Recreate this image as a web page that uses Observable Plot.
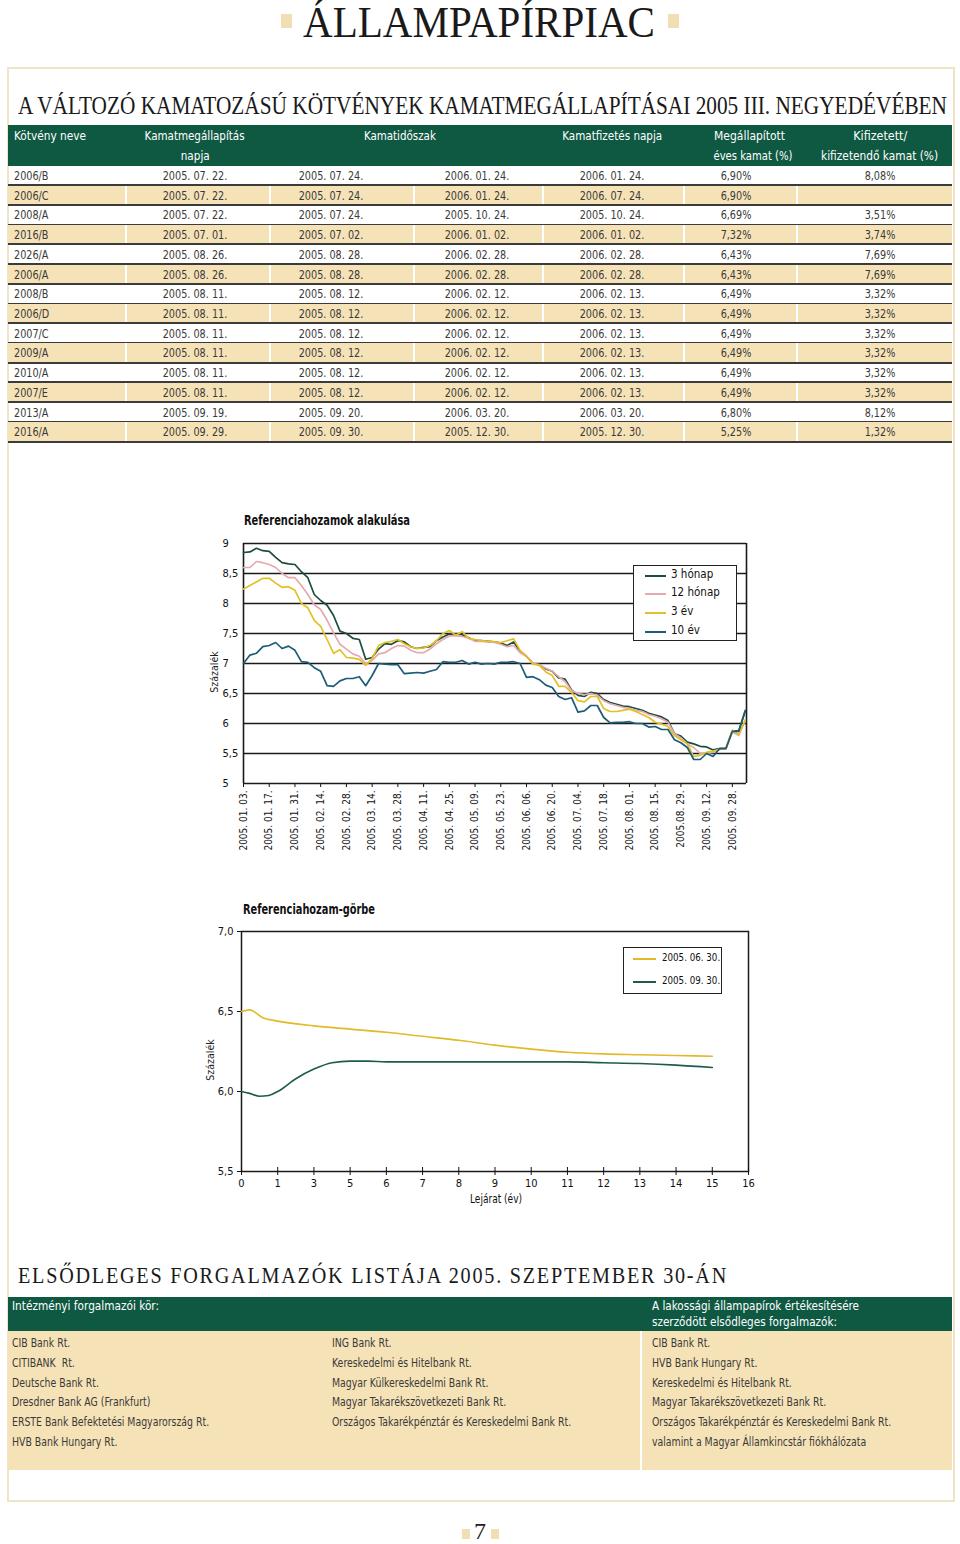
<!DOCTYPE html>
<html><head><meta charset="utf-8">
<script src="https://cdn.jsdelivr.net/npm/d3@7"></script>
<script src="https://cdn.jsdelivr.net/npm/@observablehq/plot@0.6"></script>
<style>
body{margin:0;width:960px;height:1544px;position:relative;background:#fff;overflow:hidden;
 font-family:"DejaVu Sans Condensed","Liberation Sans Narrow",sans-serif;color:#2e2e2e}
.abs{position:absolute;white-space:nowrap}
.serif{font-family:"Liberation Serif","DejaVu Serif",serif;color:#1a1a1a}
.cell{position:absolute;text-align:center;width:140px;font-size:12.8px;line-height:20px;white-space:nowrap;transform:scaleX(0.84);color:#3a3a3a}
.cellL{transform-origin:0 50%}
.hd{position:absolute;color:#fff;font-size:13px;white-space:nowrap}
.li{position:absolute;font-size:13px;white-space:pre;color:#3a3a3a;transform:scaleX(0.8);transform-origin:0 50%}
</style></head>
<body>
<script>
// ---------------- DATA ----------------
const names = ["2006/B","2006/C","2008/A","2016/B","2026/A","2006/A","2008/B","2006/D","2007/C","2009/A","2010/A","2007/E","2013/A","2016/A"];
const fixDates = ["2005. 07. 22.","2005. 07. 22.","2005. 07. 22.","2005. 07. 01.","2005. 08. 26.","2005. 08. 26.","2005. 08. 11.","2005. 08. 11.","2005. 08. 11.","2005. 08. 11.","2005. 08. 11.","2005. 08. 11.","2005. 09. 19.","2005. 09. 29."];
const periodStart = ["2005. 07. 24.","2005. 07. 24.","2005. 07. 24.","2005. 07. 02.","2005. 08. 28.","2005. 08. 28.","2005. 08. 12.","2005. 08. 12.","2005. 08. 12.","2005. 08. 12.","2005. 08. 12.","2005. 08. 12.","2005. 09. 20.","2005. 09. 30."];
const periodEnd = ["2006. 01. 24.","2006. 01. 24.","2005. 10. 24.","2006. 01. 02.","2006. 02. 28.","2006. 02. 28.","2006. 02. 12.","2006. 02. 12.","2006. 02. 12.","2006. 02. 12.","2006. 02. 12.","2006. 02. 12.","2006. 03. 20.","2005. 12. 30."];
const payDates = ["2006. 01. 24.","2006. 07. 24.","2005. 10. 24.","2006. 01. 02.","2006. 02. 28.","2006. 02. 28.","2006. 02. 13.","2006. 02. 13.","2006. 02. 13.","2006. 02. 13.","2006. 02. 13.","2006. 02. 13.","2006. 03. 20.","2005. 12. 30."];
const rates = ["6,90%","6,90%","6,69%","7,32%","6,43%","6,43%","6,49%","6,49%","6,49%","6,49%","6,49%","6,49%","6,80%","5,25%"];
const paidRates = ["8,08%","","3,51%","3,74%","7,69%","7,69%","3,32%","3,32%","3,32%","3,32%","3,32%","3,32%","8,12%","1,32%"];

// Chart 1: reference yields (business-day index, sampled every 2.5 days)
const hozamIdx = [0,2.5,5,7.5,10,12.5,15,17.5,20,22.5,25,27.5,30,32.5,35,37.5,40,42.5,45,47.5,50,52.5,55,57.5,60,62.5,65,67.5,70,72.5,75,77.5,80,82.5,85,87.5,90,92.5,95,97.5,100,102.5,105,107.5,110,112.5,115,117.5,120,122.5,125,127.5,130,132.5,135,137.5,140,142.5,145,147.5,150,152.5,155,157.5,160,162.5,165,167.5,170,172.5,175,177.5,180,182.5,185,187.5,190,192.5,195];
const honap3 = [8.85,8.86,8.92,8.88,8.87,8.77,8.68,8.66,8.65,8.53, 8.43,8.15,8.05,7.97,7.80,7.54,7.50,7.42,7.40,7.07, 7.10,7.24,7.33,7.32,7.38,7.36,7.28,7.25,7.27,7.28, 7.38,7.44,7.49,7.49,7.48,7.43,7.38,7.38,7.37,7.36, 7.34,7.30,7.36,7.20,7.12,7.00,6.98,6.91,6.87,6.76, 6.74,6.56,6.47,6.45,6.52,6.50,6.40,6.35,6.32,6.29, 6.28,6.25,6.22,6.17,6.14,6.11,6.05,5.83,5.79,5.69, 5.66,5.62,5.61,5.56,5.58,5.59,5.87,5.88,6.20];
const honap12 = [8.60,8.60,8.70,8.68,8.65,8.60,8.50,8.43,8.43,8.30, 8.15,7.98,7.90,7.72,7.51,7.32,7.24,7.16,7.12,7.00, 7.05,7.16,7.18,7.25,7.30,7.29,7.22,7.18,7.18,7.24, 7.33,7.40,7.46,7.46,7.45,7.42,7.37,7.37,7.36,7.35, 7.32,7.28,7.30,7.18,7.12,7.00,6.98,6.92,6.87,6.78, 6.70,6.55,6.50,6.48,6.50,6.47,6.38,6.33,6.30,6.27, 6.25,6.22,6.20,6.15,6.12,6.08,6.02,5.83,5.76,5.66, 5.60,5.50,5.50,5.52,5.57,5.59,5.86,5.80,6.05];
const ev3 = [8.24,8.30,8.36,8.42,8.42,8.34,8.27,8.28,8.22,8.00, 7.93,7.72,7.62,7.40,7.17,7.23,7.10,7.09,7.07,6.97, 7.08,7.30,7.35,7.37,7.40,7.33,7.28,7.25,7.26,7.30, 7.38,7.50,7.55,7.47,7.53,7.42,7.40,7.38,7.37,7.36, 7.35,7.38,7.41,7.22,7.12,6.99,6.97,6.86,6.80,6.62, 6.62,6.52,6.38,6.36,6.45,6.45,6.25,6.20,6.20,6.22, 6.24,6.20,6.15,6.10,6.02,5.99,5.95,5.80,5.73,5.66, 5.45,5.47,5.52,5.54,5.57,5.58,5.89,5.82,6.06];
const ev10 = [7.00,7.14,7.17,7.28,7.30,7.35,7.25,7.29,7.22,7.03, 7.02,6.93,6.87,6.63,6.62,6.71,6.75,6.75,6.78,6.63, 6.80,7.00,6.99,6.98,6.98,6.83,6.84,6.85,6.84,6.87, 6.90,7.03,7.02,7.02,7.05,6.99,7.02,6.99,7.00,6.99, 7.02,7.02,7.03,7.00,6.77,6.78,6.73,6.64,6.60,6.45, 6.40,6.43,6.19,6.21,6.30,6.30,6.10,6.01,6.02,6.02, 6.03,6.00,6.00,5.94,5.95,5.90,5.90,5.73,5.68,5.60, 5.40,5.40,5.50,5.45,5.58,5.58,5.87,5.87,6.22];
const seriesNames = ["3 hónap","12 hónap","3 év","10 év"];
const seriesColors = ["#1d4d3c","#e6a9b0","#e2c126","#1c5c78"];
const xTickIdx = [0,10,20,30,40,50,60,70,80,90,100,110,120,130,140,150,160,170,180,190];
const xTickLabels = ["2005. 01. 03.","2005. 01. 17.","2005. 01. 31.","2005. 02. 14.","2005. 02. 28.","2005. 03. 14.","2005. 03. 28.","2005. 04. 11.","2005. 04. 25.","2005. 05. 09.","2005. 05. 23.","2005. 06. 06.","2005. 06. 20.","2005. 07. 04.","2005. 07. 18.","2005. 08. 01.","2005. 08. 15.","2005.08. 29.","2005. 09. 12.","2005. 09. 28."];
const y1Ticks = [5,5.5,6,6.5,7,7.5,8,8.5,9];

// Chart 2: yield curve (category position of maturity label)
const curveLabels = ["0","1","3","5","6","7","8","9","10","11","12","13","14","15","16"];
const curveTickPos = [0,1,2,3,4,5,6,7,8,9,10,11,12,13,14];
const junePos = [0,0.22,0.6,1,2,3,4,5,6,7,8,9,10,11,12,13];
const juneVals = [6.50,6.51,6.46,6.44,6.41,6.39,6.37,6.345,6.32,6.29,6.265,6.245,6.235,6.23,6.225,6.22];
const septPos = [0,0.2,0.5,0.75,1,1.5,2,2.5,3,3.5,4,5,6,7,8,9,10,11,12,13];
const septVals = [6.00,5.99,5.97,5.975,6.00,6.08,6.14,6.18,6.19,6.19,6.185,6.185,6.185,6.185,6.185,6.185,6.18,6.175,6.165,6.15];
const curveNames = ["2005. 06. 30.","2005. 09. 30."];
const curveColors = ["#e2b928","#1d5c4a"];
const y2Ticks = [5.5,6.0,6.5,7.0];

// Primary dealers
const dealersA = ["CIB Bank Rt.","CITIBANK  Rt.","Deutsche Bank Rt.","Dresdner Bank AG (Frankfurt)","ERSTE Bank Befektetési Magyarország Rt.","HVB Bank Hungary Rt."];
const dealersB = ["ING Bank Rt.","Kereskedelmi és Hitelbank Rt.","Magyar Külkereskedelmi Bank Rt.","Magyar Takarékszövetkezeti Bank Rt.","Országos Takarékpénztár és Kereskedelmi Bank Rt."];
const dealersRetail = ["CIB Bank Rt.","HVB Bank Hungary Rt.","Kereskedelmi és Hitelbank Rt.","Magyar Takarékszövetkezeti Bank Rt.","Országos Takarékpénztár és Kereskedelmi Bank Rt.","valamint a Magyar Államkincstár fiókhálózata"];

// ---------------- HELPERS ----------------
const GREEN = "#0f5943", TAN = "#f6e2b7";
function el(tag, cls, style, text){const e=document.createElement(tag); if(cls) e.className=cls; Object.assign(e.style, style||{}); if(text!=null) e.textContent=text; document.body.appendChild(e); return e;}
function box(l,t,w,h,style){return el("div","",Object.assign({position:"absolute",left:l+"px",top:t+"px",width:w+"px",height:h+"px"},style||{}));}
function fit(e,w,origin){const r=e.getBoundingClientRect().width; e.style.transformOrigin=origin||"0 0"; e.style.transform=`scaleX(${w/r})`;}

// ---------------- PAGE ----------------
const t1 = el("div","abs serif",{left:"303px",top:"-3px",fontSize:"44px"},"ÁLLAMPAPÍRPIAC"); fit(t1,352);
box(281,14,11,14,{background:"#f1dfb4"}); box(668,14,11,14,{background:"#f1dfb4"});
box(7,67,944,1431,{border:"2px solid #f0e4c6"});
const t2 = el("div","abs serif",{left:"18px",top:"91px",fontSize:"26px"},"A VÁLTOZÓ KAMATOZÁSÚ KÖTVÉNYEK KAMATMEGÁLLAPÍTÁSAI 2005 III. NEGYEDÉVÉBEN"); fit(t2,929);

// table header
box(8,125,944,41,{background:GREEN});
const hdr=(txt,x,top,w,align)=>{const e=el("div","hd",{top:top+"px"},txt); const r=e.getBoundingClientRect().width; const s=w/r;
  if(align==="left"){e.style.left=x+"px"; e.style.transformOrigin="0 0";} else {e.style.left=(x-r/2)+"px"; e.style.transformOrigin="50% 0";}
  e.style.transform=`scaleX(${s})`; return e;};
hdr("Kötvény neve",14,128,72,"left");
hdr("Kamatmegállapítás",195,128,100); hdr("napja",195,148,29);
hdr("Kamatidőszak",400,128,72);
hdr("Kamatfizetés napja",612,128,100);
hdr("Megállapított",750,128,71); hdr("éves kamat (%)",753,148,79);
hdr("Kifizetett/",880,128,54); hdr("kifizetendő kamat (%)",880,148,117);

// table rows
const rowH = 19.72, row0 = 166;
const cols = [fixDates, periodStart, periodEnd, payDates, rates, paidRates];
const centers = [195,331,477,612,736,880];
const seps = [125,269,413,542,683,796];
names.forEach((n,i)=>{
  const top = row0 + i*rowH;
  if(i%2===1){
    box(8,top,944,rowH,{background:TAN});
    seps.forEach(x=>box(x,top,2,rowH,{background:"#fff"}));
  }
  box(8,top+rowH-1.5,944,2,{background:"#3b3b3b"});
  el("div","cell cellL",{left:"14px",top:top+"px",textAlign:"left"},n);
  cols.forEach((c,j)=>el("div","cell",{left:(centers[j]-70)+"px",top:top+"px"},c[i]));
});

// ---------------- CHART 1 ----------------
const hozamRows = [];
[honap3,honap12,ev3,ev10].forEach((vals,k)=>vals.forEach((v,i)=>hozamRows.push({x:hozamIdx[i], y:v, s:seriesNames[k]})));
const labelOf = new Map(xTickIdx.map((d,i)=>[d,xTickLabels[i]]));
const cond = '"DejaVu Sans Condensed",sans-serif';
const c1 = Plot.plot({
  width:565, height:318, marginLeft:53, marginRight:9, marginTop:13, marginBottom:65,
  style:{fontFamily:cond, fontSize:"10px", color:"#111", background:"transparent", overflow:"visible"},
  x:{domain:[0,195.5]},
  y:{domain:[5,9]},
  color:{domain:seriesNames, range:seriesColors},
  marks:[
    Plot.ruleY(y1Ticks,{stroke:"#1a1a1a", strokeWidth:1.6}),
    Plot.ruleX([0,195.5],{stroke:"#1a1a1a", strokeWidth:1.6}),
    Plot.axisX({ticks:xTickIdx, tickFormat:d=>labelOf.get(d), tickRotate:-90, tickSize:4, tickPadding:3, label:null, stroke:"#111", fontSize:10}),
    Plot.axisY({ticks:y1Ticks, tickFormat:d=>String(d).replace(".",","), tickSize:0, tickPadding:3, textAnchor:"start", dx:-18, label:null, fontSize:11}),
    Plot.line(hozamRows,{x:"x", y:"y", stroke:"s", z:"s", strokeWidth:1.7, curve:"linear"})
  ]
});
const w1 = box(190,530,565,318,{}); w1.appendChild(c1);
const ct1 = el("div","abs",{left:"244px",top:"512px",fontSize:"13.5px",fontWeight:"bold",color:"#111"},"Referenciahozamok alakulása"); fit(ct1,166);
el("div","abs",{left:"214px",top:"672px",fontSize:"10.5px",color:"#222",transform:"translate(-50%,-50%) rotate(-90deg)"},"Százalék");
// legend 1
const lg1 = box(633,565,102,74,{border:"1.3px solid #222",background:"#fff"});
seriesNames.forEach((n,i)=>{
  const y=[9,27,46,65][i];
  const l=document.createElement("div"); Object.assign(l.style,{position:"absolute",left:"11px",top:(y)+"px",width:"21px",height:"2px",background:seriesColors[i]}); lg1.appendChild(l);
  const t=document.createElement("div"); Object.assign(t.style,{position:"absolute",left:"37px",top:(y-8)+"px",fontSize:"11.5px",color:"#111",whiteSpace:"nowrap"}); t.textContent=n; lg1.appendChild(t);
});

// ---------------- CHART 2 ----------------
const curveRows = [];
junePos.forEach((p,i)=>curveRows.push({x:p,y:juneVals[i],s:curveNames[0]}));
septPos.forEach((p,i)=>curveRows.push({x:p,y:septVals[i],s:curveNames[1]}));
const c2 = Plot.plot({
  width:565, height:291, marginLeft:51, marginRight:7, marginTop:11, marginBottom:40,
  style:{fontFamily:cond, fontSize:"11px", color:"#111", background:"transparent", overflow:"visible"},
  x:{domain:[0,14]},
  y:{domain:[5.5,7.0]},
  color:{domain:curveNames, range:curveColors},
  marks:[
    Plot.frame({stroke:"#1a1a1a", strokeWidth:1.5}),
    Plot.axisX({ticks:curveTickPos, tickFormat:d=>curveLabels[d], tickSize:4, tickPadding:4, label:null, fontSize:11}),
    Plot.axisX({ticks:curveTickPos, tickSize:-4, text:null, label:null}),
    Plot.axisY({ticks:y2Ticks, tickFormat:d=>d.toFixed(1).replace(".",","), tickSize:4, tickPadding:4, label:null, fontSize:11}),
    Plot.line(curveRows,{x:"x", y:"y", stroke:"s", z:"s", strokeWidth:1.6, curve:"monotone-x"})
  ]
});
const w2 = box(190,920,565,291,{}); w2.appendChild(c2);
const ct2 = el("div","abs",{left:"243px",top:"901px",fontSize:"13.5px",fontWeight:"bold",color:"#111"},"Referenciahozam-görbe"); fit(ct2,132);
el("div","abs",{left:"210px",top:"1060px",fontSize:"10.5px",color:"#222",transform:"translate(-50%,-50%) rotate(-90deg)"},"Százalék");
const xl2 = el("div","abs",{left:"470px",top:"1192px",fontSize:"11.5px",color:"#111"},"Lejárat (év)"); fit(xl2,52);
const lg2 = box(623,947,97,45,{border:"1.3px solid #222",background:"#fff"});
curveNames.forEach((n,i)=>{
  const y=[10,33][i];
  const l=document.createElement("div"); Object.assign(l.style,{position:"absolute",left:"9px",top:y+"px",width:"23px",height:"2px",background:curveColors[i]}); lg2.appendChild(l);
  const t=document.createElement("div"); Object.assign(t.style,{position:"absolute",left:"38px",top:(y-7)+"px",fontSize:"11px",color:"#111",whiteSpace:"nowrap",transform:"scaleX(0.88)",transformOrigin:"0 0"}); t.textContent=n; lg2.appendChild(t);
});

// ---------------- DEALERS ----------------
const t3 = el("div","abs serif",{left:"18px",top:"1263px",fontSize:"23px",letterSpacing:"2px"},"ELSŐDLEGES FORGALMAZÓK LISTÁJA 2005. SZEPTEMBER 30-ÁN"); fit(t3,710);
box(8,1297,944,34,{background:GREEN});
const hh1 = el("div","hd",{left:"12px",top:"1298px"},"Intézményi forgalmazói kör:"); fit(hh1,147);
const hh2 = el("div","hd",{left:"652px",top:"1298px"},"A lakossági állampapírok értékesítésére"); fit(hh2,207);
const hh3 = el("div","hd",{left:"652px",top:"1314px"},"szerződött elsődleges forgalmazók:"); fit(hh3,185);
box(8,1331,944,139,{background:TAN});
box(640,1331,2,139,{background:"#fff"});
const ly = [1335,1355,1375,1394,1414,1434];
dealersA.forEach((d,i)=>el("div","li",{left:"12px",top:ly[i]+"px"},d));
dealersB.forEach((d,i)=>el("div","li",{left:"332px",top:ly[i]+"px"},d));
dealersRetail.forEach((d,i)=>el("div","li",{left:"652px",top:ly[i]+"px"},d));

// page number
el("div","abs serif",{left:"474px",top:"1518px",fontSize:"24px",color:"#222"},"7");
box(462,1529,8,10,{background:"#f1dfb4"}); box(491,1529,8,10,{background:"#f1dfb4"});
</script>
</body></html>
